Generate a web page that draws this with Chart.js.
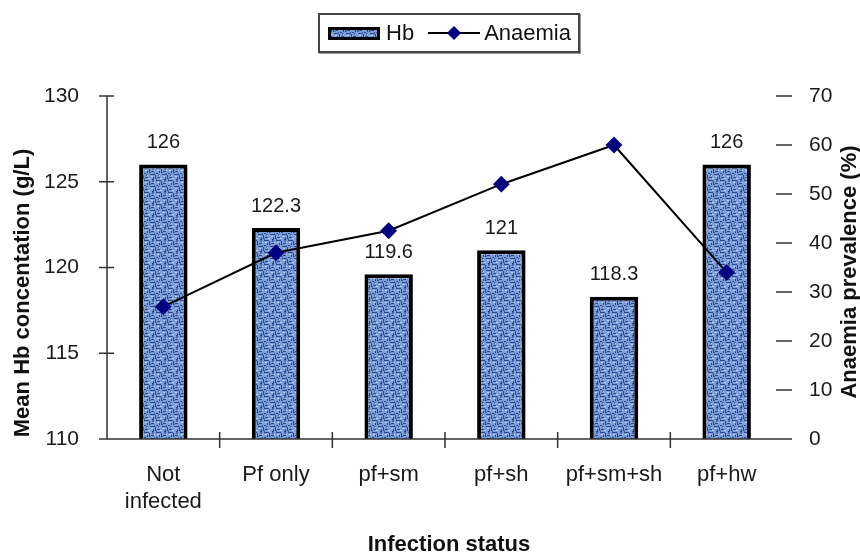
<!DOCTYPE html>
<html>
<head>
<meta charset="utf-8">
<script src="https://cdn.jsdelivr.net/npm/chart.js@4.4.1/dist/chart.umd.min.js"></script>
<style>
  html, body { margin: 0; padding: 0; background: #fff; }
  #wrap { position: relative; width: 860px; height: 559px; }
  #legend {
    position: absolute; left: 318px; top: 13px; width: 258px; height: 36px;
    border: 2px solid #444; box-shadow: 1px 1px 0 #999;
    font-family: 'Liberation Sans', Arial, sans-serif; font-size: 22px; color: #111;
    display: flex; align-items: center; box-sizing: content-box;
  }
  #legend .item { display: flex; align-items: center; }
</style>
</head>
<body>
<div id="wrap">
  <canvas id="chart" width="860" height="559"></canvas>
  <div id="legend">
    <span class="item" style="margin-left:8px"><canvas id="swatch" width="52" height="13"></canvas><span style="margin-left:6px">Hb</span></span>
    <span class="item" style="margin-left:14px">
      <svg width="52" height="16"><line x1="0" y1="8" x2="52" y2="8" stroke="#000" stroke-width="2"/><rect x="21" y="3" width="10" height="10" fill="#000080" transform="rotate(45 26 8)"/></svg>
      <span style="margin-left:4px">Anaemia</span>
    </span>
  </div>
</div>
<script>
const categories = [['Not', 'infected'], 'Pf only', 'pf+sm', 'pf+sh', 'pf+sm+sh', 'pf+hw'];
const hbValues = [126, 122.3, 119.6, 121, 118.3, 126];
const anaemiaValues = [27, 38, 42.5, 52, 60, 34];
const hbTicks = [110, 115, 120, 125, 130];
const anaemiaTicks = [0, 10, 20, 30, 40, 50, 60, 70];

const FONT = "'Liberation Sans', Arial, sans-serif";

// woven blue texture for the bars
function makePattern(ctx) {
  const pc = document.createElement('canvas');
  pc.width = 12; pc.height = 12;
  const g = pc.getContext('2d');
  g.fillStyle = '#7d9dd8'; g.fillRect(0, 0, 12, 12);
  g.fillStyle = '#2b4a8c';
  [[0,0,5,1],[6,6,5,1],[5,1,1,4],[11,7,1,4],[1,9,3,1],[7,3,3,1],[0,5,2,1],[8,11,2,1],[3,3,1,2],[9,9,1,2]].forEach(r => g.fillRect(...r));
  g.fillStyle = '#4a6bad';
  [[2,6,2,2],[8,0,2,2],[0,10,1,2],[6,4,1,1],[10,5,1,1]].forEach(r => g.fillRect(...r));
  g.fillStyle = '#b6cdf3';
  [[1,2,2,1],[7,8,2,1],[3,7,1,1],[10,2,1,1],[4,10,2,1]].forEach(r => g.fillRect(...r));
  return ctx.createPattern(pc, 'repeat');
}

const sw = document.getElementById('swatch').getContext('2d');
sw.fillStyle = makePattern(sw); sw.fillRect(0, 0, 52, 13);
sw.strokeStyle = '#000'; sw.lineWidth = 3; sw.strokeRect(1.5, 1.5, 49, 10);

const ctx = document.getElementById('chart').getContext('2d');
const barPattern = makePattern(ctx);

const axesPlugin = {
  id: 'axesPlugin',
  afterDraw(chart) {
    const { ctx, chartArea: a, scales } = chart;
    const x = scales.x, y = scales.y, y1 = scales.y1;
    ctx.save();
    ctx.strokeStyle = '#333'; ctx.lineWidth = 1.5;
    ctx.beginPath();
    // left axis + x axis
    ctx.moveTo(a.left, a.top); ctx.lineTo(a.left, a.bottom);
    ctx.moveTo(a.left, a.bottom); ctx.lineTo(a.right + 9, a.bottom);
    y.ticks.forEach(t => { const py = y.getPixelForValue(t.value); ctx.moveTo(a.left - 8, py); ctx.lineTo(a.left + 7, py); });
    y1.ticks.forEach(t => { const py = y1.getPixelForValue(t.value); ctx.moveTo(a.right - 7, py); ctx.lineTo(a.right + 9, py); });
    const step = x.getPixelForValue(1) - x.getPixelForValue(0);
    for (let i = 1; i < categories.length; i++) {
      const px = x.getPixelForValue(i) - step / 2;
      ctx.moveTo(px, a.bottom - 7); ctx.lineTo(px, a.bottom + 9);
    }
    ctx.stroke();

    // data labels over the bars
    ctx.fillStyle = '#1a1a1a';
    ctx.font = '20px ' + FONT;
    ctx.textAlign = 'center'; ctx.textBaseline = 'middle';
    chart.getDatasetMeta(1).data.forEach((bar, i) => ctx.fillText(String(hbValues[i]), bar.x, bar.y - 22));

    // axis titles
    ctx.fillStyle = '#111';
    ctx.font = 'bold 22px ' + FONT;
    ctx.fillText('Infection status', 449, 545);
    ctx.save(); ctx.translate(23, 293); ctx.rotate(-Math.PI / 2);
    ctx.fillText('Mean Hb concentation (g/L)', 0, 0); ctx.restore();
    ctx.save(); ctx.translate(850, 272); ctx.rotate(-Math.PI / 2);
    ctx.fillText('Anaemia prevalence (%)', 0, 0); ctx.restore();
    ctx.restore();
  }
};

new Chart(ctx, {
  data: {
    labels: categories,
    datasets: [
      {
        type: 'line',
        label: 'Anaemia',
        data: anaemiaValues,
        yAxisID: 'y1',
        borderColor: '#000',
        borderWidth: 2,
        tension: 0,
        pointStyle: 'rectRot',
        pointRadius: 7,
        pointBackgroundColor: '#000080',
        pointBorderColor: '#000080',
        order: 0
      },
      {
        type: 'bar',
        label: 'Hb',
        data: hbValues,
        yAxisID: 'y',
        backgroundColor: barPattern,
        borderColor: '#000',
        borderWidth: 4,
        borderSkipped: false,
        barPercentage: 0.43,
        categoryPercentage: 1,
        order: 1
      }
    ]
  },
  options: {
    responsive: false,
    animation: false,
    layout: { padding: { top: 96, left: 0, right: 0, bottom: 0 } },
    plugins: { legend: { display: false }, tooltip: { enabled: false } },
    scales: {
      x: {
        offset: true,
        grid: { display: false },
        border: { display: false },
        ticks: { color: '#1a1a1a', font: { family: FONT, size: 22 }, padding: 15, maxRotation: 0, autoSkip: false },
        afterFit: s => { s.height = 120; }
      },
      y: {
        position: 'left',
        min: 110, max: 130,
        afterBuildTicks: s => { s.ticks = hbTicks.map(v => ({ value: v })); },
        grid: { display: false },
        border: { display: false },
        ticks: { color: '#1a1a1a', font: { family: FONT, size: 21 }, padding: 20 },
        afterFit: s => { s.width = 107; }
      },
      y1: {
        position: 'right',
        min: 0, max: 70,
        afterBuildTicks: s => { s.ticks = anaemiaTicks.map(v => ({ value: v })); },
        grid: { display: false },
        border: { display: false },
        ticks: { color: '#1a1a1a', font: { family: FONT, size: 21 }, padding: 18 },
        afterFit: s => { s.width = 77; }
      }
    }
  },
  plugins: [axesPlugin]
});
</script>
</body>
</html>
